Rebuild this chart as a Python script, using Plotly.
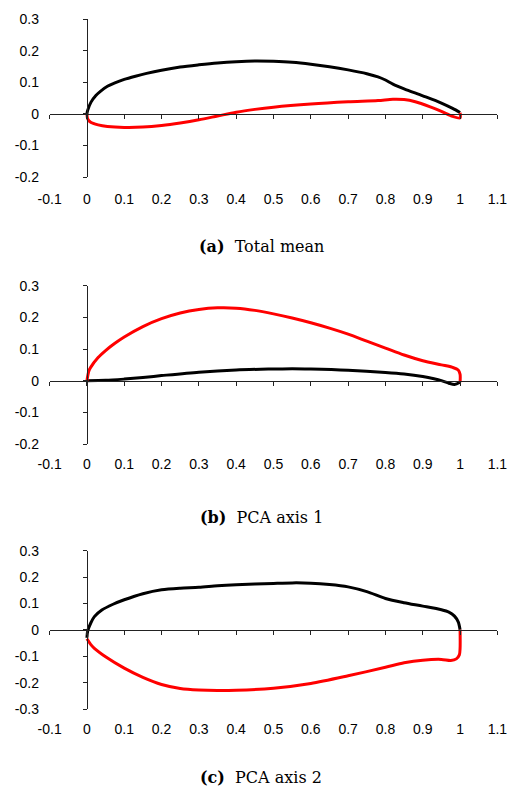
import plotly.graph_objects as go

# ---------------- data ----------------
# (a) Total mean
a_black_x = [0, 0.002, 0.011, 0.024, 0.037, 0.055, 0.075, 0.1, 0.13, 0.16, 0.2, 0.25, 0.3, 0.35, 0.4, 0.45, 0.5, 0.55, 0.6, 0.65, 0.7, 0.75, 0.78, 0.8, 0.82, 0.85, 0.9, 0.95, 0.98, 1.0]
a_black_y = [0, 0.011, 0.037, 0.058, 0.072, 0.087, 0.098, 0.109, 0.119, 0.128, 0.138, 0.148, 0.155, 0.161, 0.165, 0.167, 0.166, 0.163, 0.157, 0.149, 0.139, 0.127, 0.117, 0.107, 0.094, 0.079, 0.057, 0.034, 0.017, 0.004]
a_red_x = [0, 0.002, 0.01, 0.03, 0.055, 0.1, 0.15, 0.2, 0.25, 0.3, 0.35, 0.4, 0.45, 0.5, 0.6, 0.7, 0.78, 0.82, 0.85, 0.88, 0.92, 0.95, 0.98, 1.0, 1.0]
a_red_y = [0, -0.016, -0.027, -0.035, -0.04, -0.043, -0.042, -0.037, -0.029, -0.019, -0.007, 0.005, 0.014, 0.021, 0.031, 0.038, 0.042, 0.046, 0.045, 0.038, 0.022, 0.008, -0.008, -0.013, 0.003]

# (b) PCA axis 1
b_black_x = [0, 0.05, 0.1, 0.15, 0.2, 0.3, 0.4, 0.5, 0.55, 0.6, 0.7, 0.8, 0.85, 0.9, 0.93, 0.95, 0.97, 0.985, 1.0]
b_black_y = [0, 0.001, 0.005, 0.01, 0.016, 0.027, 0.034, 0.037, 0.038, 0.037, 0.033, 0.026, 0.021, 0.013, 0.006, 0.0, -0.008, -0.012, -0.005]
b_red_x = [0, 0.005, 0.01, 0.03, 0.05, 0.075, 0.1, 0.15, 0.2, 0.25, 0.3, 0.35, 0.4, 0.45, 0.5, 0.55, 0.6, 0.65, 0.7, 0.75, 0.8, 0.85, 0.9, 0.95, 0.98, 0.995, 1.0, 1.0]
b_red_y = [0, 0.03, 0.042, 0.073, 0.095, 0.118, 0.138, 0.171, 0.196, 0.214, 0.225, 0.23, 0.229, 0.222, 0.211, 0.198, 0.183, 0.166, 0.147, 0.125, 0.103, 0.081, 0.063, 0.05, 0.042, 0.034, 0.02, -0.005]

# (c) PCA axis 2
c_black_x = [0, 0.002, 0.01, 0.02, 0.04, 0.07, 0.1, 0.15, 0.2, 0.25, 0.3, 0.35, 0.4, 0.5, 0.55, 0.6, 0.65, 0.7, 0.75, 0.8, 0.85, 0.9, 0.95, 0.97, 0.985, 0.995, 1.0]
c_black_y = [-0.03, -0.005, 0.025, 0.05, 0.075, 0.097, 0.114, 0.137, 0.152, 0.158, 0.161, 0.167, 0.171, 0.176, 0.178, 0.177, 0.172, 0.163, 0.145, 0.119, 0.103, 0.09, 0.076, 0.067, 0.052, 0.03, 0.0]
c_red_x = [0, 0.01, 0.02, 0.05, 0.1, 0.15, 0.2, 0.25, 0.3, 0.35, 0.4, 0.5, 0.6, 0.7, 0.8, 0.85, 0.9, 0.95, 0.975, 0.99, 0.998, 1.0, 1.0]
c_red_y = [-0.034, -0.055, -0.07, -0.102, -0.145, -0.18, -0.207, -0.222, -0.228, -0.23, -0.229, -0.221, -0.203, -0.174, -0.142, -0.125, -0.115, -0.112, -0.116, -0.11, -0.095, -0.07, 0.0]

x_tickvals = [-0.1, 0, 0.1, 0.2, 0.3, 0.4, 0.5, 0.6, 0.7, 0.8, 0.9, 1.0, 1.1]
x_ticktext = ["-0.1", "0", "0.1", "0.2", "0.3", "0.4", "0.5", "0.6", "0.7", "0.8", "0.9", "1", "1.1"]
y_tickvals_ab = [-0.2, -0.1, 0, 0.1, 0.2, 0.3]
y_ticktext_ab = ["-0.2", "-0.1", "0", "0.1", "0.2", "0.3"]
y_tickvals_c = [-0.3, -0.2, -0.1, 0, 0.1, 0.2, 0.3]
y_ticktext_c = ["-0.3", "-0.2", "-0.1", "0", "0.1", "0.2", "0.3"]
captions = ["<b>(a)</b>\u00a0\u00a0Total mean", "<b>(b)</b>\u00a0\u00a0PCA axis 1", "<b>(c)</b>\u00a0\u00a0PCA axis 2"]

# ---------------- layout ----------------
W, H = 508, 786
x_range = [-0.1, 1.1]
x_dom = [49.6 / W, 497.4 / W]
panels = [
    dict(bx=a_black_x, by=a_black_y, rx=a_red_x, ry=a_red_y, yr=[-0.2, 0.3],
         ytv=y_tickvals_ab, ytt=y_ticktext_ab, top=19, bot=177, lab=196.7, cap=247),
    dict(bx=b_black_x, by=b_black_y, rx=b_red_x, ry=b_red_y, yr=[-0.2, 0.3],
         ytv=y_tickvals_ab, ytt=y_ticktext_ab, top=285.7, bot=444, lab=461.7, cap=517),
    dict(bx=c_black_x, by=c_black_y, rx=c_red_x, ry=c_red_y, yr=[-0.3, 0.3],
         ytv=y_tickvals_c, ytt=y_ticktext_c, top=550.7, bot=709, lab=726.7, cap=777),
]

tick_font = dict(family="Liberation Sans, Arial, sans-serif", size=14, color="#000")
fig = go.Figure()
annotations = []
axis_color = "#222"

for i, p in enumerate(panels, start=1):
    xa = "x" if i == 1 else f"x{i}"
    ya = "y" if i == 1 else f"y{i}"
    fig.add_trace(go.Scatter(x=p["bx"], y=p["by"], xaxis=xa, yaxis=ya, mode="lines",
                             line=dict(color="#000000", width=3, shape="spline", smoothing=0.8),
                             hoverinfo="skip", showlegend=False, cliponaxis=False))
    fig.add_trace(go.Scatter(x=p["rx"], y=p["ry"], xaxis=xa, yaxis=ya, mode="lines",
                             line=dict(color="#ff0000", width=3, shape="spline", smoothing=0.8),
                             hoverinfo="skip", showlegend=False, cliponaxis=False))

    y_dom = [1 - p["bot"] / H, 1 - p["top"] / H]
    ymin, ymax = p["yr"]
    zero_px = p["bot"] - (0 - ymin) / (ymax - ymin) * (p["bot"] - p["top"])
    x_pos = 1 - zero_px / H
    y_pos = x_dom[0] + (0 - x_range[0]) / (x_range[1] - x_range[0]) * (x_dom[1] - x_dom[0])
    x_stand = int(round((p["lab"] - zero_px) - 15))
    y_stand = int((86 - 37) - 8)

    fig.update_layout(**{
        ("xaxis" if i == 1 else f"xaxis{i}"): dict(
            domain=x_dom, range=x_range, anchor="free", position=x_pos,
            showline=True, linecolor=axis_color, linewidth=1.3,
            ticks="outside", ticklen=4, tickcolor=axis_color, tickwidth=1.3,
            tickvals=x_tickvals, ticktext=x_ticktext, tickfont=tick_font,
            ticklabelstandoff=x_stand, ticklabeloverflow="allow", automargin=False,
            showgrid=False, zeroline=False, fixedrange=True),
        ("yaxis" if i == 1 else f"yaxis{i}"): dict(
            domain=y_dom, range=p["yr"], anchor="free", position=y_pos,
            showline=True, linecolor=axis_color, linewidth=1.3,
            ticks="outside", ticklen=4, tickcolor=axis_color, tickwidth=1.3,
            tickvals=p["ytv"], ticktext=p["ytt"], tickfont=tick_font,
            ticklabelstandoff=y_stand, ticklabeloverflow="allow", automargin=False,
            showgrid=False, zeroline=False, fixedrange=True),
    })
    annotations.append(dict(text=captions[i - 1], xref="paper", yref="paper",
                            x=261 / W, y=1 - p["cap"] / H, xanchor="center", yanchor="middle",
                            showarrow=False,
                            font=dict(family="DejaVu Serif, serif", size=16, color="#000")))

fig.update_layout(width=W, height=H, margin=dict(l=0, r=0, t=0, b=0, autoexpand=False),
                  paper_bgcolor="white", plot_bgcolor="white",
                  annotations=annotations, showlegend=False)

fig.write_html("out.html", config={"displayModeBar": False},
               post_script="document.body.style.margin='0';document.body.style.padding='0';document.body.style.overflow='hidden';")
